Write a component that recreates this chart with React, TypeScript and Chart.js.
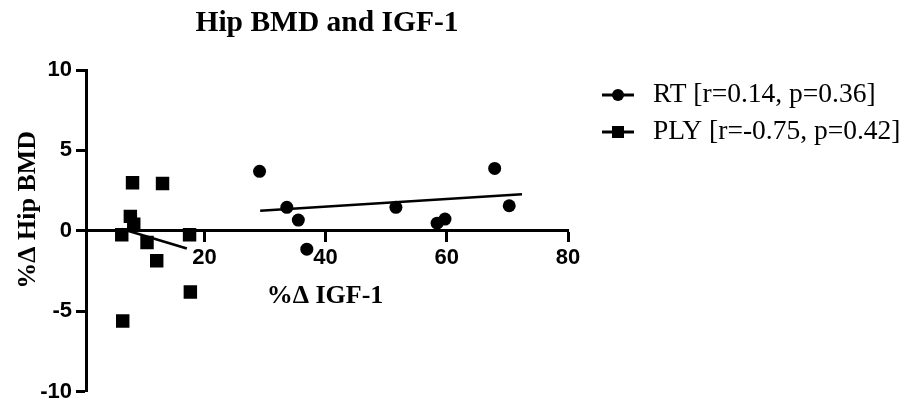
import React, { useEffect, useRef } from "react";
import { Chart, registerables } from "chart.js";

Chart.register(...registerables);

// ---- Data ----
const rtX = [29.1, 33.6, 35.5, 36.9, 51.6, 58.4, 59.7, 67.9, 70.3];
const rtY = [3.7, 1.46, 0.67, -1.14, 1.46, 0.48, 0.73, 3.88, 1.56];
const plyX = [8.14, 13.09, 7.78, 8.34, 6.36, 17.55, 10.53, 12.13, 17.68, 6.52];
const plyY = [2.99, 2.94, 0.9, 0.42, -0.24, -0.24, -0.72, -1.86, -3.8, -5.6];
const rtFitX = [29.2, 72.4];
const rtFitY = [1.25, 2.28];
const plyFitX = [6.4, 17.1];
const plyFitY = [0.11, -1.1];
const xTicks = [20, 40, 60, 80];
const yTicks = [-10, -5, 0, 5, 10];
const legendLabels = ["RT [r=0.14, p=0.36]", "PLY [r=-0.75, p=0.42]"];
const chartTitle = "Hip BMD and IGF-1";
const xTitle = "%Δ IGF-1";
const yTitle = "%Δ Hip BMD";

const SERIF = '"Liberation Serif", "Times New Roman", serif';
const SANS = '"Liberation Sans", Arial, sans-serif';

const toPts = (xs: number[], ys: number[]) => xs.map((x, i) => ({ x, y: ys[i] }));

const extrasPlugin = {
  id: "extras",
  afterDraw(chart: any) {
    const { ctx, chartArea, scales } = chart;
    ctx.save();
    ctx.fillStyle = "#000";
    ctx.strokeStyle = "#000";
    // y axis title
    ctx.save();
    ctx.font = `bold 26px ${SERIF}`;
    ctx.textAlign = "center";
    ctx.textBaseline = "middle";
    ctx.translate(chartArea.left - 58, (chartArea.top + chartArea.bottom) / 2 - 21);
    ctx.rotate(-Math.PI / 2);
    ctx.fillText(yTitle, 0, 0);
    ctx.restore();
    // x axis title
    ctx.font = `bold 26px ${SERIF}`;
    ctx.textAlign = "center";
    ctx.textBaseline = "middle";
    ctx.fillText(xTitle, (chartArea.left + chartArea.right) / 2 - 2, scales.y.getPixelForValue(0) + 65);
    // legend
    const lx = chartArea.right + 34;
    const rows = [chartArea.top + 25, chartArea.top + 62];
    legendLabels.forEach((label, i) => {
      const y = rows[i];
      ctx.lineWidth = 3;
      ctx.beginPath();
      ctx.moveTo(lx, y);
      ctx.lineTo(lx + 32, y);
      ctx.stroke();
      ctx.beginPath();
      if (i === 0) {
        ctx.arc(lx + 16, y, 6, 0, Math.PI * 2);
        ctx.fill();
      } else {
        ctx.fillRect(lx + 16 - 6, y - 6, 12, 12);
      }
      ctx.font = `27.5px ${SERIF}`;
      ctx.textAlign = "left";
      ctx.textBaseline = "middle";
      ctx.fillText(label, lx + 51, y);
    });
    ctx.restore();
  },
};

export default function App() {
  const ref = useRef<HTMLCanvasElement>(null);
  useEffect(() => {
    if (!ref.current) return;
    const chart = new Chart(ref.current, {
      type: "scatter",
      data: {
        datasets: [
          {
            label: "RT",
            data: toPts(rtX, rtY),
            pointStyle: "circle",
            pointRadius: 6.5,
            backgroundColor: "#000",
            borderColor: "#000",
            borderWidth: 0,
          },
          {
            label: "PLY",
            data: toPts(plyX, plyY),
            pointStyle: "rect",
            pointRadius: 9.5,
            backgroundColor: "#000",
            borderColor: "#000",
            borderWidth: 0,
          },
          {
            label: "RT fit",
            data: toPts(rtFitX, rtFitY),
            showLine: true,
            pointRadius: 0,
            borderColor: "#000",
            borderWidth: 2.6,
          },
          {
            label: "PLY fit",
            data: toPts(plyFitX, plyFitY),
            showLine: true,
            pointRadius: 0,
            borderColor: "#000",
            borderWidth: 2.6,
          },
        ],
      },
      options: {
        responsive: false,
        animation: false,
        events: [],
        layout: { padding: { left: 0, right: 340, top: 0, bottom: 13.3 } },
        plugins: {
          legend: { display: false },
          tooltip: { enabled: false },
          title: {
            display: true,
            text: chartTitle,
            color: "#000",
            fullSize: false,
            font: { family: SERIF, size: 29.5, weight: "bold" },
            padding: { top: 6, bottom: 28.6 },
          },
        },
        scales: {
          x: {
            type: "linear",
            position: { y: 0 } as any,
            min: 0.46,
            max: 80,
            afterBuildTicks: (s: any) => {
              s.ticks = xTicks.map((v) => ({ value: v }));
            },
            afterFit: (s: any) => {
              s.height = 0;
            },
            border: { display: true, color: "#000", width: 3 },
            grid: { drawOnChartArea: false, drawTicks: true, tickLength: 10, tickWidth: 3, tickColor: "#000" },
            ticks: {
              color: "#000",
              padding: 4,
              maxRotation: 0,
              font: { family: SANS, size: 22, weight: "bold" },
            },
          },
          y: {
            type: "linear",
            position: "left",
            min: -10,
            max: 10,
            afterBuildTicks: (s: any) => {
              s.ticks = yTicks.map((v) => ({ value: v }));
            },
            afterFit: (s: any) => {
              s.width = 86;
            },
            border: { display: true, color: "#000", width: 3 },
            grid: { drawOnChartArea: false, drawTicks: true, tickLength: 10, tickWidth: 3, tickColor: "#000" },
            ticks: {
              color: "#000",
              padding: 4,
              font: { family: SANS, size: 22, weight: "bold", lineHeight: 0.7 },
            },
          },
        },
      },
      plugins: [extrasPlugin],
    });
    return () => chart.destroy();
  }, []);
  return (
    <div style={{ position: "absolute", left: 0, top: 0, width: 908, height: 405, background: "#fff" }}>
      <canvas ref={ref} width={908} height={405} />
    </div>
  );
}
